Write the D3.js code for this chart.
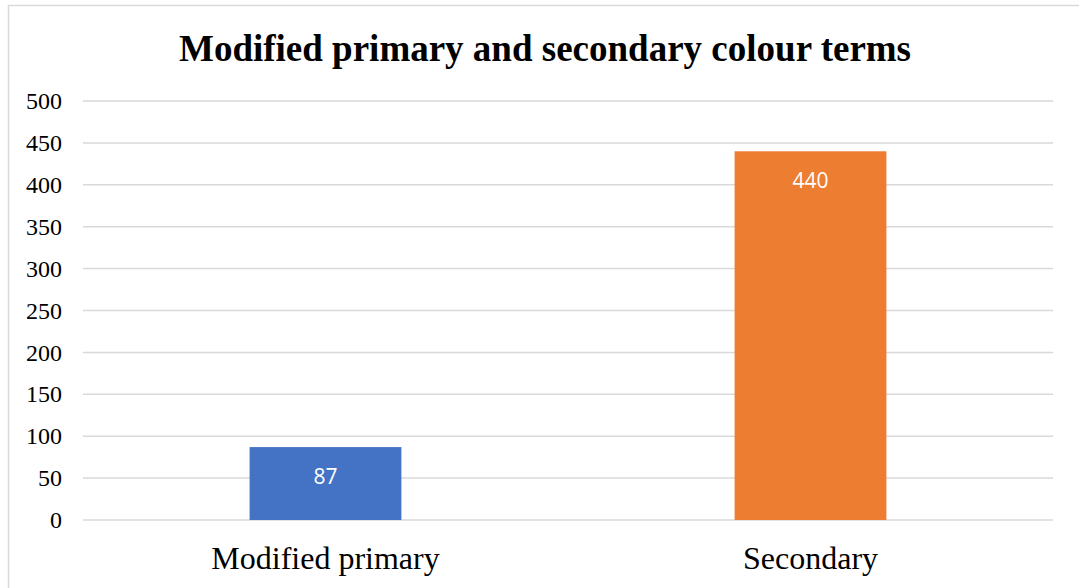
<!DOCTYPE html>
<html>
<head>
<meta charset="utf-8">
<script src="https://cdn.jsdelivr.net/npm/d3@7"></script>
<style>
  body { margin: 0; background: #fff; }
  svg { display: block; }
</style>
</head>
<body>
<div id="chart"></div>
<script>
// Chart data
var categories = ["Modified primary", "Secondary"];
var counts = [87, 440];
var barColors = ["#4472c4", "#ed7d31"];
var yTicks = [0, 50, 100, 150, 200, 250, 300, 350, 400, 450, 500];

var svgWidth = 1079;
var svgHeight = 588;
var serif = "'Liberation Serif', 'Times New Roman', serif";

var svg = d3.select("#chart")
  .append("svg")
  .attr("width", svgWidth)
  .attr("height", svgHeight);

// chart border (runs off right and bottom)
svg.append("rect")
  .attr("x", 8.5)
  .attr("y", 5.5)
  .attr("width", 1100)
  .attr("height", 600)
  .attr("fill", "#fff")
  .attr("stroke", "#d9d9d9")
  .attr("stroke-width", 1.5);

var margin = { top: 101, left: 83, right: 26, bottom: 68 };
var width = svgWidth - margin.left - margin.right;
var height = svgHeight - margin.top - margin.bottom;

var g = svg.append("g")
  .attr("transform", `translate(${margin.left}, ${margin.top})`);

var xScale = d3.scaleBand()
  .domain(categories)
  .range([0, width])
  .padding(0);

var yScale = d3.scaleLinear()
  .domain([0, 500])
  .range([height, 0]);

// gridlines
g.selectAll(".grid")
  .data(yTicks)
  .enter()
  .append("line")
  .attr("x1", 0)
  .attr("x2", width)
  .attr("y1", d => yScale(d))
  .attr("y2", d => yScale(d))
  .attr("stroke", "#d9d9d9")
  .attr("stroke-width", 1.5);

// y axis labels
var yAxis = d3.axisLeft(yScale).tickValues(yTicks).tickSize(0).tickPadding(21);
var yG = g.append("g").call(yAxis);
yG.select(".domain").remove();
yG.attr("font-family", null).attr("font-size", null);
yG.selectAll("text")
  .style("font-family", serif)
  .style("font-size", "24px")
  .attr("fill", "#000");

// bars
var barW = xScale.bandwidth() * 0.313;
g.selectAll(".bar")
  .data(counts)
  .enter()
  .append("rect")
  .attr("x", (d, i) => xScale(categories[i]) + xScale.bandwidth() / 2 - barW / 2)
  .attr("y", d => yScale(d))
  .attr("width", barW)
  .attr("height", d => height - yScale(d))
  .attr("fill", (d, i) => barColors[i]);

// value labels inside bars
g.selectAll(".val")
  .data(counts)
  .enter()
  .append("text")
  .attr("x", (d, i) => xScale(categories[i]) + xScale.bandwidth() / 2)
  .attr("y", d => yScale(d) + 37)
  .attr("text-anchor", "middle")
  .style("font-family", "'Open Sans', 'Liberation Sans', sans-serif")
  .style("font-size", "21px")
  .attr("fill", "#fff")
  .text(d => d);

// x axis labels
var xAxis = d3.axisBottom(xScale).tickSize(0).tickPadding(26);
var xG = g.append("g")
  .attr("transform", `translate(0, ${height})`)
  .call(xAxis);
xG.select(".domain").remove();
xG.attr("font-family", null).attr("font-size", null);
xG.selectAll("text")
  .style("font-family", serif)
  .style("font-size", "32px")
  .attr("fill", "#000");

// title
svg.append("text")
  .attr("x", 545)
  .attr("y", 61)
  .attr("text-anchor", "middle")
  .style("font-family", serif)
  .style("font-weight", "bold")
  .style("font-size", "37px")
  .attr("fill", "#000")
  .text("Modified primary and secondary colour terms");
</script>
</body>
</html>
